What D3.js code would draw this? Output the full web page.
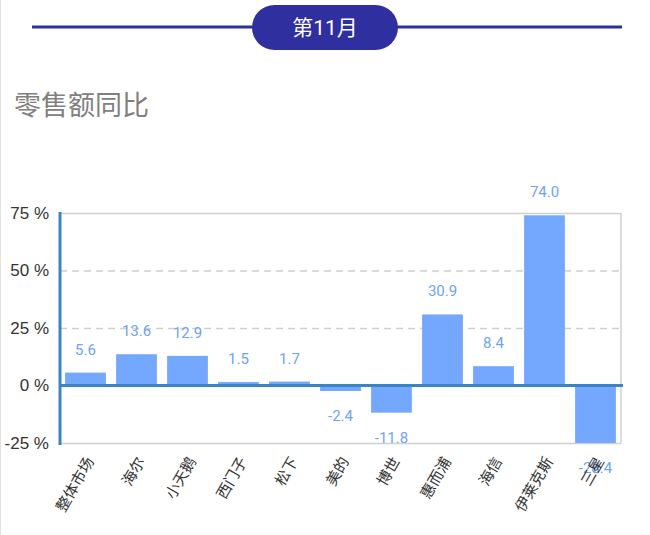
<!DOCTYPE html>
<html>
<head>
<meta charset="utf-8">
<script src="https://cdn.jsdelivr.net/npm/d3@7"></script>
<style>
  body { margin: 0; background: #fff; }
  svg { display: block; font-family: Roboto, 'Noto Sans CJK SC', sans-serif; }
</style>
</head>
<body>
<svg id="chart" width="650" height="535"></svg>
<script>
const categories = ['整体市场', '海尔', '小天鹅', '西门子', '松下', '美的', '博世', '惠而浦', '海信', '伊莱克斯', '三星']
const values = [5.6, 13.6, 12.9, 1.5, 1.7, -2.4, -11.8, 30.9, 8.4, 74.0, -28.4]
const yTicks = [-25, 0, 25, 50, 75]

const svg = d3.select('#chart')
const barColor = '#74a8fe'
const labelColor = '#6fa3f5'
const axisBlue = '#3c84c1'
const navy = '#2f2f9f'

const plotLeft = 60, plotRight = 621, plotTop = 213, plotBottom = 443

// left card edge
svg.append('line')
  .attr('x1', 0.5).attr('x2', 0.5).attr('y1', 0).attr('y2', 535)
  .attr('stroke', '#e2e2e2')

// header line + pill
svg.append('line')
  .attr('x1', 32).attr('x2', 622).attr('y1', 27).attr('y2', 27)
  .attr('stroke', navy).attr('stroke-width', 3)
svg.append('rect')
  .attr('x', 252).attr('y', 5).attr('width', 146).attr('height', 45)
  .attr('rx', 22.5).attr('fill', navy)
svg.append('text')
  .attr('x', 325).attr('y', 35)
  .attr('text-anchor', 'middle')
  .style('font-size', '21px')
  .attr('fill', '#fff')
  .text('第11月')

// title
svg.append('text')
  .attr('x', 14).attr('y', 115)
  .style('font-size', '27px')
  .attr('fill', '#808080')
  .text('零售额同比')

const xScale = d3.scaleBand()
  .domain(categories)
  .range([plotLeft, plotRight])
  .paddingInner(0.2)
  .paddingOuter(0.1)

const yScale = d3.scaleLinear()
  .domain([-25, 75])
  .range([plotBottom, plotTop])
  .clamp(true)

// grid lines
const grid = svg.append('g')
  .attr('transform', `translate(${plotLeft}, 0)`)
  .call(d3.axisLeft(yScale).tickValues(yTicks).tickSize(-(plotRight - plotLeft)).tickFormat(''))
grid.select('.domain').remove()
grid.selectAll('.tick line')
  .attr('stroke', '#d0d0d0')
  .attr('stroke-width', 1.5)
  .attr('stroke-dasharray', d => (d === 25 || d === 50) ? '7 5' : null)

// right border
svg.append('line')
  .attr('x1', plotRight).attr('x2', plotRight).attr('y1', plotTop).attr('y2', plotBottom)
  .attr('stroke', '#d0d0d0').attr('stroke-width', 1.5)

// y tick labels
const yAxis = svg.append('g')
  .attr('transform', `translate(${plotLeft}, 0)`)
  .call(d3.axisLeft(yScale).tickValues(yTicks).tickSize(0).tickPadding(11).tickFormat(d => d + ' %'))
yAxis.select('.domain').remove()
yAxis.selectAll('text')
  .style('font-size', '17px')
  .attr('fill', '#333')

// bars
svg.selectAll('.bar')
  .data(values)
  .enter()
  .append('rect')
  .attr('class', 'bar')
  .attr('x', (d, i) => xScale(categories[i]))
  .attr('width', xScale.bandwidth())
  .attr('y', d => Math.min(yScale(d), yScale(0)))
  .attr('height', d => Math.abs(yScale(d) - yScale(0)))
  .attr('fill', barColor)

// zero line and left axis
svg.append('line')
  .attr('x1', plotLeft).attr('x2', plotRight + 2).attr('y1', yScale(0)).attr('y2', yScale(0))
  .attr('stroke', axisBlue).attr('stroke-width', 3)
svg.append('line')
  .attr('x1', plotLeft).attr('x2', plotLeft).attr('y1', plotTop - 1).attr('y2', plotBottom + 2)
  .attr('stroke', axisBlue).attr('stroke-width', 3)

// value labels
svg.selectAll('.val')
  .data(values)
  .enter()
  .append('text')
  .attr('class', 'val')
  .attr('x', (d, i) => xScale(categories[i]) + xScale.bandwidth() / 2)
  .attr('y', d => d >= 0 ? yScale(d) - 18 : yScale(d) + 30)
  .attr('text-anchor', 'middle')
  .style('font-size', '15px')
  .attr('fill', labelColor)
  .text(d => d.toFixed(1))

// category labels
svg.selectAll('.cat')
  .data(categories)
  .enter()
  .append('text')
  .attr('class', 'cat')
  .attr('transform', d => `translate(${xScale(d) + xScale.bandwidth() / 2 + 9}, 461) rotate(-60)`)
  .attr('text-anchor', 'end')
  .style('font-size', '15px')
  .attr('fill', '#333')
  .text(d => d)
</script>
</body>
</html>
